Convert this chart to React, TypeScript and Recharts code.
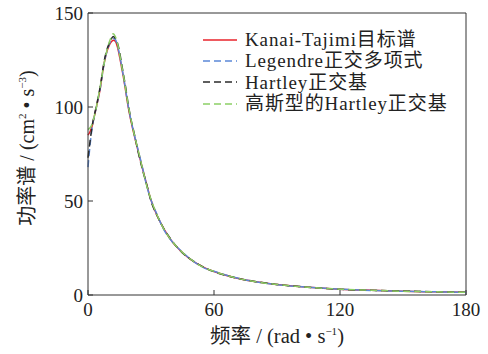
import {
  LineChart,
  Line,
  XAxis,
  YAxis,
  ReferenceLine,
} from "recharts";

const freq = [
  0, 1, 2, 3, 4, 5, 6, 7, 8, 9, 10, 11, 12, 13, 14, 15, 16, 17, 18, 19, 20, 22,
  24, 26, 28, 30, 33, 36, 40, 45, 50, 55, 60, 70, 80, 90, 100, 110, 120, 135,
  150, 165, 180,
];

const kanaiTajimi = [
  85, 87, 90, 95, 100, 105, 111, 119, 125, 129.5, 132.5, 134.5, 135.5, 135, 132,
  127, 121, 115, 108, 101, 95, 85, 76, 67, 58.5, 50.5, 42, 35.5, 28.5, 22.5, 18,
  14.8, 12.5, 9.2, 7, 5.6, 4.5, 3.7, 3.1, 2.5, 2.0, 1.7, 1.4,
];

const legendre = [
  68, 80, 89, 95, 100, 105.5, 111, 118.5, 125, 129.5, 133, 135.5, 136.5, 136,
  133, 128, 122, 115.5, 108.5, 101.5, 95.5, 85.5, 76.5, 67.5, 58, 50.5, 42.5,
  35, 28.5, 22.8, 18, 14.6, 12.6, 9.3, 7, 5.5, 4.5, 3.8, 3.1, 2.4, 2.0, 1.7, 1.4,
];

const hartley = [
  73, 82, 90, 95.5, 100.5, 106, 112, 119.5, 126, 130.5, 133.5, 136, 137.5,
  136.5, 134, 129.5, 123, 116.5, 110, 102.5, 96, 86, 75.5, 66.5, 58.5, 50, 42,
  35.5, 28.8, 22.4, 18.2, 14.8, 12.4, 9.2, 7.1, 5.6, 4.6, 3.7, 3.0, 2.5, 2.1,
  1.7, 1.4,
];

const gaussHartley = [
  88, 89, 91, 95, 100, 106, 112, 119, 125, 130, 134, 137, 139, 137.5, 134,
  128.5, 122, 116, 109, 102, 96, 85.5, 76.5, 67, 58, 50.8, 42.3, 35.3, 28.6,
  22.6, 18.1, 14.7, 12.5, 9.2, 7.0, 5.6, 4.5, 3.7, 3.1, 2.5, 2.0, 1.7, 1.4,
];

const xTicks = [0, 60, 120, 180];
const yTicks = [0, 50, 100, 150];

const seriesNames = [
  "Kanai-Tajimi目标谱",
  "Legendre正交多项式",
  "Hartley正交基",
  "高斯型的Hartley正交基",
];

const data = freq.map((f, i) => ({
  f,
  kt: kanaiTajimi[i],
  lg: legendre[i],
  ht: hartley[i],
  gh: gaussHartley[i],
}));

const FONT = "'Liberation Serif', 'Times New Roman', 'Noto Sans CJK SC', serif";
const AXIS = "#333";

const series = [
  { key: "kt", name: seriesNames[0], color: "#e8232b", dash: undefined },
  { key: "lg", name: seriesNames[1], color: "#5b88d8", dash: "7 4" },
  { key: "ht", name: seriesNames[2], color: "#2a2a2a", dash: "7 4" },
  { key: "gh", name: seriesNames[3], color: "#8ccf66", dash: "7 4" },
];

function LegendBox() {
  return (
    <div
      style={{
        position: "absolute",
        left: 203,
        top: 29,
        fontFamily: FONT,
        fontSize: 19,
        letterSpacing: 0.9,
        color: "#222",
        lineHeight: 1,
      }}
    >
      {series.map((s) => (
        <div
          key={s.key}
          style={{ display: "flex", alignItems: "center", height: 21.3 }}
        >
          <svg width={40} height={4} style={{ marginRight: 2 }}>
            <line
              x1={0}
              y1={2}
              x2={34}
              y2={2}
              stroke={s.color}
              strokeWidth={1.5}
              strokeDasharray={s.dash}
            />
          </svg>
          <span style={{ whiteSpace: "nowrap" }}>{s.name}</span>
        </div>
      ))}
    </div>
  );
}

export default function App() {
  return (
    <div style={{ position: "absolute", left: 0, top: 0, width: 488, height: 354 }}>
      <LineChart
        width={488}
        height={354}
        data={data}
        margin={{ top: 13, right: 22, left: 0, bottom: 0 }}
      >
        <XAxis
          dataKey="f"
          type="number"
          domain={[0, 180]}
          ticks={xTicks}
          height={59}
          stroke={AXIS}
          tickSize={-5}
          tickMargin={13}
          tick={{ fontFamily: FONT, fontSize: 19, fill: "#222" }}
          label={{
            content: () => (
              <text
                x={277}
                y={343}
                textAnchor="middle"
                fontFamily={FONT}
                fontSize={20.5}
                fill="#222"
              >
                频率 / (rad • s
                <tspan dy={-8} fontSize={11}>
                  −1
                </tspan>
                <tspan dy={8}>)</tspan>
              </text>
            ),
          }}
        />
        <YAxis
          type="number"
          domain={[0, 150]}
          ticks={yTicks}
          width={88}
          stroke={AXIS}
          tickSize={-5}
          tickMargin={10}
          tick={{ fontFamily: FONT, fontSize: 19, fill: "#222" }}
          label={{
            content: () => (
              <text
                x={0}
                y={0}
                transform="translate(34,148) rotate(-90)"
                textAnchor="middle"
                fontFamily={FONT}
                fontSize={20}
                fill="#222"
              >
                功率谱 / (cm
                <tspan dy={-8} fontSize={11}>
                  2
                </tspan>
                <tspan dy={8}> • s</tspan>
                <tspan dy={-8} fontSize={11}>
                  −3
                </tspan>
                <tspan dy={8}>)</tspan>
              </text>
            ),
          }}
        />
        <ReferenceLine y={150} stroke={AXIS} />
        <ReferenceLine x={180} stroke={AXIS} />
        {series.map((s) => (
          <Line
            key={s.key}
            dataKey={s.key}
            name={s.name}
            type="monotone"
            stroke={s.color}
            strokeWidth={1.5}
            strokeDasharray={s.dash}
            dot={false}
            isAnimationActive={false}
          />
        ))}
      </LineChart>
      <LegendBox />
    </div>
  );
}
